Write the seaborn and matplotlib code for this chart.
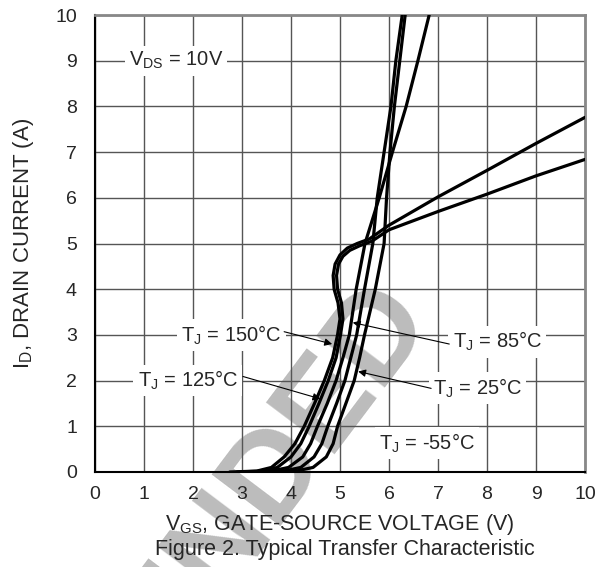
import numpy as np
import pandas as pd
import seaborn as sns
from matplotlib import pyplot as plt

sns.set_style('white')
plt.rcParams['font.family'] = ['Liberation Sans', 'DejaVu Sans']
plt.rcParams['mathtext.fontset'] = 'custom'
plt.rcParams['mathtext.rm'] = 'Liberation Sans'
plt.rcParams['mathtext.it'] = 'Liberation Sans'

# VDS = 10V
id_steep = [0, 0.02, 0.1, 0.33, 0.62, 1.0, 1.5, 2.0, 2.5, 3.0, 4.0, 5.0, 6.0, 7.0, 8.0, 9.0, 10.0]
id_sat = [0, 0.02, 0.1, 0.33, 0.62, 1.0, 1.5, 2.0, 2.5, 3.0, 3.35, 3.7, 4.0, 4.3, 4.55,
          4.75, 4.9, 5.0, 5.1, 5.4, 6.02, 6.6, 7.19, 7.76]
id_sat2 = [0, 0.02, 0.1, 0.33, 0.62, 1.0, 1.5, 2.0, 2.5, 3.0, 3.35, 3.7, 4.0, 4.3, 4.55,
           4.72, 4.85, 4.95, 5.05, 5.3, 5.7, 6.08, 6.48, 6.84]

vgs_150 = [2.75, 3.3, 3.6, 3.86, 4.08, 4.27, 4.48, 4.68, 4.85, 4.95, 5.0, 4.96, 4.88, 4.86,
           4.9, 5.0, 5.15, 5.35, 5.6, 6.0, 7.0, 8.0, 9.0, 10.0]
vgs_125 = [2.9, 3.4, 3.72, 4.0, 4.2, 4.37, 4.57, 4.76, 4.92, 5.01, 5.06, 5.03, 4.95, 4.93,
           4.97, 5.06, 5.2, 5.4, 5.65, 6.0, 7.0, 8.0, 9.0, 10.0]
vgs_85 = [3.1, 3.6, 3.95, 4.24, 4.4, 4.54, 4.74, 4.92, 5.06, 5.19, 5.33, 5.51, 5.8, 6.07,
          6.35, 6.59, 6.82]
vgs_25 = [3.3, 3.85, 4.2, 4.47, 4.63, 4.75, 4.93, 5.10, 5.22, 5.34, 5.5, 5.67, 5.76, 5.90,
          6.04, 6.14, 6.27]
vgs_m55 = [3.5, 4.1, 4.45, 4.72, 4.86, 4.95, 5.12, 5.29, 5.4, 5.5, 5.72, 5.9, 5.95, 6.02,
           6.11, 6.22, 6.33]

curves = [('150', vgs_150, id_sat), ('125', vgs_125, id_sat2), ('85', vgs_85, id_steep),
          ('25', vgs_25, id_steep), ('-55', vgs_m55, id_steep)]
df = pd.concat([pd.DataFrame({'tj': t, 'vgs': v, 'id': i}) for t, v, i in curves])

fig = plt.figure(figsize=(6.1, 5.67), dpi=100)
ax = fig.add_axes([95/610, 95/567, 490/610, 457/567])
ax.patch.set_alpha(0)

# watermark, behind the axes
fig.text(275/610, 1 - 470/567, 'ENDED', rotation=53, fontsize=90, color='#bcbcbc',
         fontweight='bold', ha='center', va='center', zorder=-1)

sns.lineplot(data=df, x='vgs', y='id', hue='tj', palette=['black']*5, sort=False,
             estimator=None, legend=False, lw=2.3, ax=ax, zorder=4)

ax.set_xlim(0, 10)
ax.set_ylim(0, 10)
ax.set_xticks(range(0, 11))
ax.set_yticks(range(0, 11))
ax.grid(True, color='#555555', lw=1.0, zorder=0)
ax.set_axisbelow(True)
ax.tick_params(length=0, labelsize=14)
ax.tick_params(axis='x', pad=10)
ax.tick_params(axis='y', pad=13)
for s in ['left', 'bottom']:
    ax.spines[s].set_color('black')
    ax.spines[s].set_linewidth(1.5)
for s in ['top', 'right']:
    ax.spines[s].set_color('#888888')
    ax.spines[s].set_linewidth(2)

ax.set_xlabel(r'V$_{\mathrm{GS}}$, GATE-SOURCE VOLTAGE (V)', fontsize=15.5)
ax.xaxis.set_label_coords(0.5, -0.088)
ax.set_ylabel(r'I$_{\mathrm{D}}$, DRAIN CURRENT (A)', fontsize=16)
ax.yaxis.set_label_coords(-0.12, 0.5)
fig.text(345/610, 1 - 549/567, 'Figure 2. Typical Transfer Characteristic',
         fontsize=15.5, ha='center', va='center')

box = dict(facecolor='white', edgecolor='none', pad=3)
ax.text(0.69, 9.0, r'V$_{\mathrm{DS}}$ = 10V', fontsize=14.5, va='center', bbox=box, zorder=3)

labels = [(r'T$_{\mathrm{J}}$ = 150°C', 1.76, 3.0, (3.86, 3.07), (4.84, 2.8)),
          (r'T$_{\mathrm{J}}$ = 125°C', 0.87, 2.0, (3.02, 2.09), (4.6, 1.6)),
          (r'T$_{\mathrm{J}}$ = 85°C', 7.3, 2.85, (7.23, 2.8), (5.26, 3.27)),
          (r'T$_{\mathrm{J}}$ = 25°C', 6.9, 1.83, (6.86, 1.83), (5.37, 2.2)),
          (r'T$_{\mathrm{J}}$ = -55°C', 5.8, 0.63, None, None)]
for txt, x, y, start, tip in labels:
    ax.text(x, y, txt, fontsize=14.5, va='center', bbox=box, zorder=3)
    if start is not None:
        ax.annotate('', xy=tip, xytext=start, zorder=5,
                    arrowprops=dict(arrowstyle='-|>', color='black', lw=0.8,
                                    mutation_scale=11, shrinkA=0, shrinkB=0))

fig.savefig('out.png', dpi=100)
